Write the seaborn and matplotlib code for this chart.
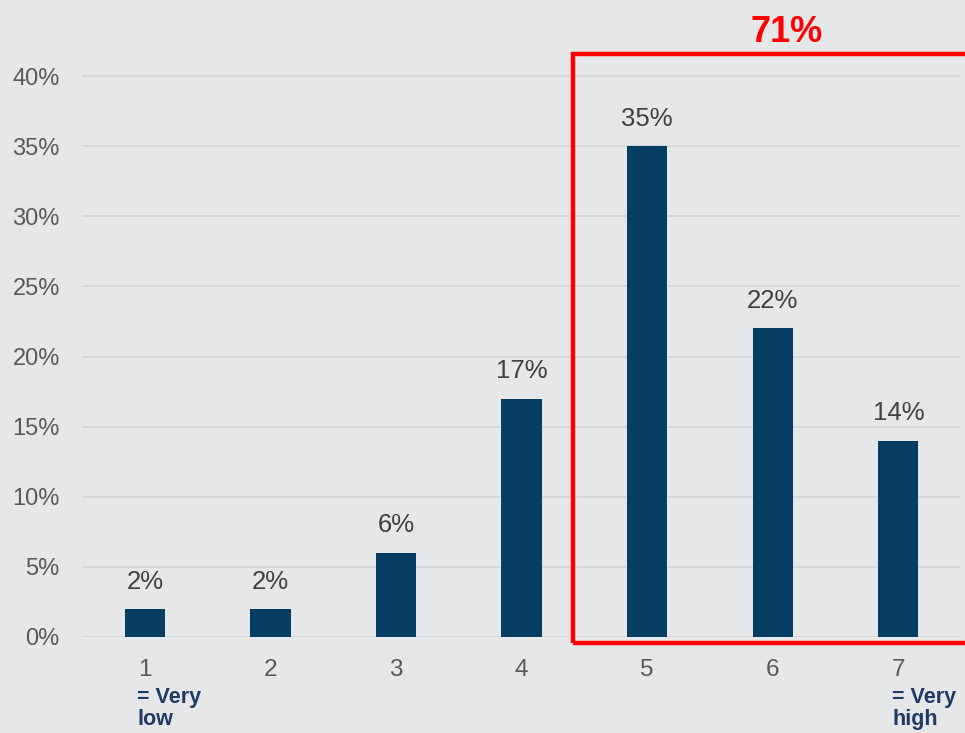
import matplotlib
matplotlib.use("Agg")
import matplotlib.pyplot as plt
import seaborn as sns
import pandas as pd
from matplotlib.patches import Rectangle

categories = ["1", "2", "3", "4", "5", "6", "7"]
values = [2, 2, 6, 17, 35, 22, 14]
value_labels = ["2%", "2%", "6%", "17%", "35%", "22%", "14%"]
y_ticks = [0, 5, 10, 15, 20, 25, 30, 35, 40]
y_tick_labels = ["0%", "5%", "10%", "15%", "20%", "25%", "30%", "35%", "40%"]
total_label = "71%"
low_note = "= Very\nlow"
high_note = "= Very\nhigh"

bg = "#E6E7E9"
bar_color = "#053E62"

sns.set_theme(style="white")
plt.rcParams["font.family"] = ["Liberation Sans", "DejaVu Sans"]

df = pd.DataFrame({"cat": categories, "val": values})

fig = plt.figure(figsize=(9.65, 7.33), dpi=100, facecolor=bg)
ax = fig.add_axes([0.085, 0.131, 0.911, 0.8035])
ax.set_facecolor(bg)

for t in y_ticks:
    ax.axhline(t, color="#D3D4D6", lw=1.2, zorder=0)

sns.barplot(data=df, x="cat", y="val", color=bar_color, width=0.32,
            saturation=1, linewidth=0, ax=ax, zorder=2)

for i, (v, lab) in enumerate(zip(values, value_labels)):
    ax.text(i, v + 1.1, lab, ha="center", va="bottom", fontsize=18.5, color="#404040")

ax.set_yticks(y_ticks)
ax.set_yticklabels(y_tick_labels, fontsize=17, color="#595959")
ax.set_xticks(range(len(categories)))
ax.set_xticklabels(categories, fontsize=17.5, color="#595959")
ax.tick_params(axis="x", length=0, pad=16)
ax.tick_params(axis="y", length=0, pad=16)
ax.set_xlabel("")
ax.set_ylabel("")
for s in ax.spines.values():
    s.set_visible(False)
ax.set_xlim(-0.5, 6.5)
ax.set_ylim(0, 42)

ax.text(-0.06, -3.6, low_note, ha="left", va="top", fontsize=15.5, fontweight="bold",
        color="#1F3A66", linespacing=1.05)
ax.text(5.95, -3.6, high_note, ha="left", va="top", fontsize=15.5, fontweight="bold",
        color="#1F3A66", linespacing=1.05)

rect = Rectangle((3.41, -0.43), 3.2, 42.0, fill=False, edgecolor="#FF0000",
                 lw=3.2, clip_on=False, zorder=5, joinstyle="miter")
ax.add_patch(rect)
ax.text(5.11, 42.4, total_label, ha="center", va="baseline", fontsize=26,
        fontweight="bold", color="#FF0000")

fig.savefig("out.png", dpi=100, facecolor=bg)
